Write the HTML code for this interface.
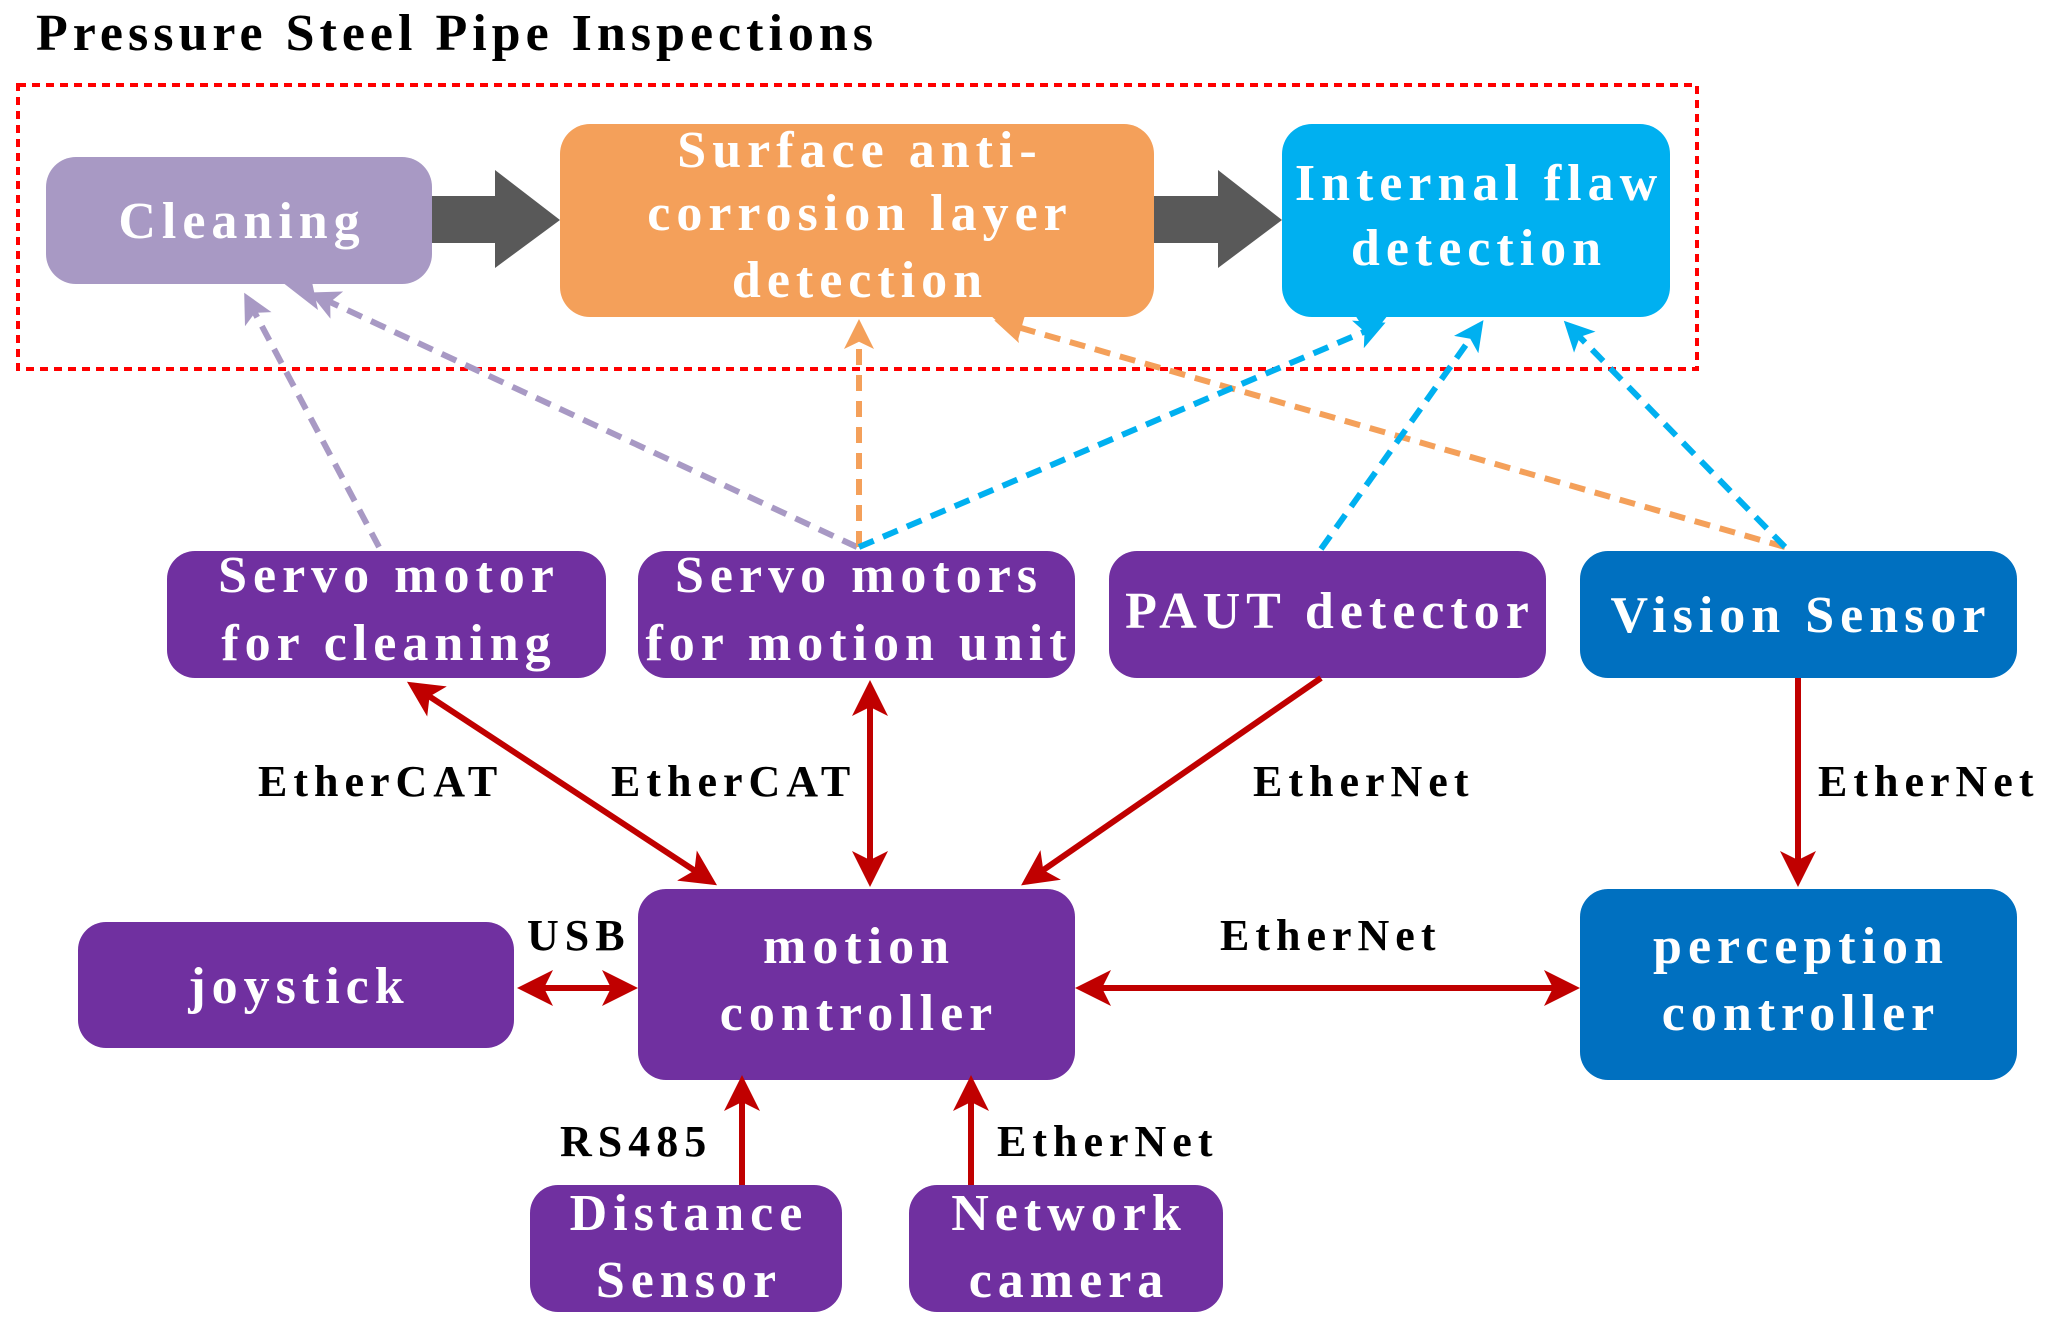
<!DOCTYPE html>
<html><head><meta charset="utf-8"><style>
html,body{margin:0;padding:0;background:#fff;}
svg{display:block;}
text{font-family:"Liberation Serif",serif;font-weight:bold;}
.w{fill:#fff;font-size:52px;text-anchor:middle;letter-spacing:6px;}
.l{fill:#000;font-size:44px;letter-spacing:6px;}
</style></head><body>
<svg width="2051" height="1335" viewBox="0 0 2051 1335" xmlns="http://www.w3.org/2000/svg">
<defs>
<marker id="rh" markerWidth="6" markerHeight="6" refX="5" refY="3" orient="auto-start-reverse" markerUnits="strokeWidth"><path d="M0,0 L6,3 L0,6 L1.5,3 Z" fill="#c00000"/></marker>
<marker id="ph" markerWidth="5" markerHeight="5" refX="4" refY="2.5" orient="auto" markerUnits="strokeWidth"><path d="M0,0 L5,2.5 L0,5 L1.2,2.5 Z" fill="#a899c4"/></marker>
<marker id="oh" markerWidth="5" markerHeight="5" refX="4" refY="2.5" orient="auto" markerUnits="strokeWidth"><path d="M0,0 L5,2.5 L0,5 L1.2,2.5 Z" fill="#f4a05a"/></marker>
<marker id="bh" markerWidth="5" markerHeight="5" refX="4" refY="2.5" orient="auto" markerUnits="strokeWidth"><path d="M0,0 L5,2.5 L0,5 L1.2,2.5 Z" fill="#00b0f0"/></marker>
</defs>
<text x="36" y="50" style="font-size:52px;fill:#000;letter-spacing:5px">Pressure Steel Pipe Inspections</text>
<rect x="18" y="85" width="1679" height="284" fill="none" stroke="#ff0000" stroke-width="4" stroke-dasharray="8,6"/>
<rect x="46" y="157" width="386" height="127" rx="30" fill="#a899c4"/>
<path d="M282,282 L312,282 L318,310 Z" fill="#a899c4"/>
<text class="w" x="242" y="238">Cleaning</text>
<path d="M432,196 L495,196 L495,170 L560,220 L495,268 L495,243 L432,243 Z" fill="#595959"/>
<rect x="560" y="124" width="594" height="193" rx="30" fill="#f4a05a"/>
<path d="M990,315 L1025,315 L1018,340 Z" fill="#f4a05a"/>
<text class="w" x="860" y="167">Surface anti-</text>
<text class="w" x="860" y="230">corrosion layer</text>
<text class="w" x="860" y="297">detection</text>
<path d="M1154,196 L1218,196 L1218,170 L1282,220 L1218,268 L1218,243 L1154,243 Z" fill="#595959"/>
<rect x="1282" y="124" width="388" height="193" rx="30" fill="#00b0f0"/>
<path d="M1355,315 L1388,315 L1370,338 Z" fill="#00b0f0"/>
<text class="w" x="1479" y="200">Internal flaw</text>
<text class="w" x="1479" y="265">detection</text>
<g stroke-width="6" stroke-dasharray="16,10" fill="none">
<line x1="379" y1="547" x2="247" y2="298" stroke="#a899c4" marker-end="url(#ph)"/>
<line x1="857" y1="547" x2="315" y2="295" stroke="#a899c4" marker-end="url(#ph)"/>
<line x1="859" y1="547" x2="859" y2="325" stroke="#f4a05a" marker-end="url(#oh)"/>
<line x1="1785" y1="547" x2="1000" y2="322" stroke="#f4a05a" marker-end="url(#oh)"/>
<line x1="859" y1="547" x2="1380" y2="325" stroke="#00b0f0" marker-end="url(#bh)"/>
<line x1="1321" y1="549" x2="1480" y2="325" stroke="#00b0f0" marker-end="url(#bh)"/>
<line x1="1785" y1="547" x2="1568" y2="325" stroke="#00b0f0" marker-end="url(#bh)"/>
</g>
<rect x="167" y="551" width="439" height="127" rx="28" fill="#7030a0"/>
<text class="w" x="389" y="592">Servo motor</text>
<text class="w" x="389" y="660">for cleaning</text>
<rect x="638" y="551" width="437" height="127" rx="28" fill="#7030a0"/>
<text class="w" x="859" y="592">Servo motors</text>
<text class="w" x="859" y="660">for motion unit</text>
<rect x="1109" y="551" width="437" height="127" rx="28" fill="#7030a0"/>
<text class="w" x="1330" y="628">PAUT detector</text>
<rect x="1580" y="551" width="437" height="127" rx="28" fill="#0070c0"/>
<text class="w" x="1801" y="632">Vision Sensor</text>
<rect x="638" y="889" width="437" height="191" rx="28" fill="#7030a0"/>
<text class="w" x="859" y="963">motion</text>
<text class="w" x="859" y="1030">controller</text>
<rect x="78" y="922" width="436" height="126" rx="28" fill="#7030a0"/>
<text class="w" x="299" y="1003">joystick</text>
<rect x="1580" y="889" width="437" height="191" rx="28" fill="#0070c0"/>
<text class="w" x="1801" y="963">perception</text>
<text class="w" x="1801" y="1030">controller</text>
<rect x="530" y="1185" width="312" height="127" rx="28" fill="#7030a0"/>
<text class="w" x="689" y="1230">Distance</text>
<text class="w" x="689" y="1297">Sensor</text>
<rect x="909" y="1185" width="314" height="127" rx="28" fill="#7030a0"/>
<text class="w" x="1069" y="1230">Network</text>
<text class="w" x="1069" y="1297">camera</text>
<g stroke="#c00000" stroke-width="6" fill="none">
<line x1="412" y1="685" x2="712" y2="882" marker-start="url(#rh)" marker-end="url(#rh)"/>
<line x1="870" y1="686" x2="870" y2="881" marker-start="url(#rh)" marker-end="url(#rh)"/>
<line x1="1321" y1="678" x2="1026" y2="882" marker-end="url(#rh)"/>
<line x1="1798" y1="678" x2="1798" y2="881" marker-end="url(#rh)"/>
<line x1="523" y1="988" x2="632" y2="988" marker-start="url(#rh)" marker-end="url(#rh)"/>
<line x1="1081" y1="988" x2="1574" y2="988" marker-start="url(#rh)" marker-end="url(#rh)"/>
<line x1="742" y1="1185" x2="742" y2="1081" marker-end="url(#rh)"/>
<line x1="971" y1="1185" x2="971" y2="1081" marker-end="url(#rh)"/>
</g>
<text class="l" x="258" y="796">EtherCAT</text>
<text class="l" x="611" y="796">EtherCAT</text>
<text class="l" x="1253" y="796">EtherNet</text>
<text class="l" x="1818" y="796">EtherNet</text>
<text class="l" x="527" y="950">USB</text>
<text class="l" x="1220" y="950">EtherNet</text>
<text class="l" x="560" y="1156">RS485</text>
<text class="l" x="997" y="1156">EtherNet</text>
</svg>
</body></html>
